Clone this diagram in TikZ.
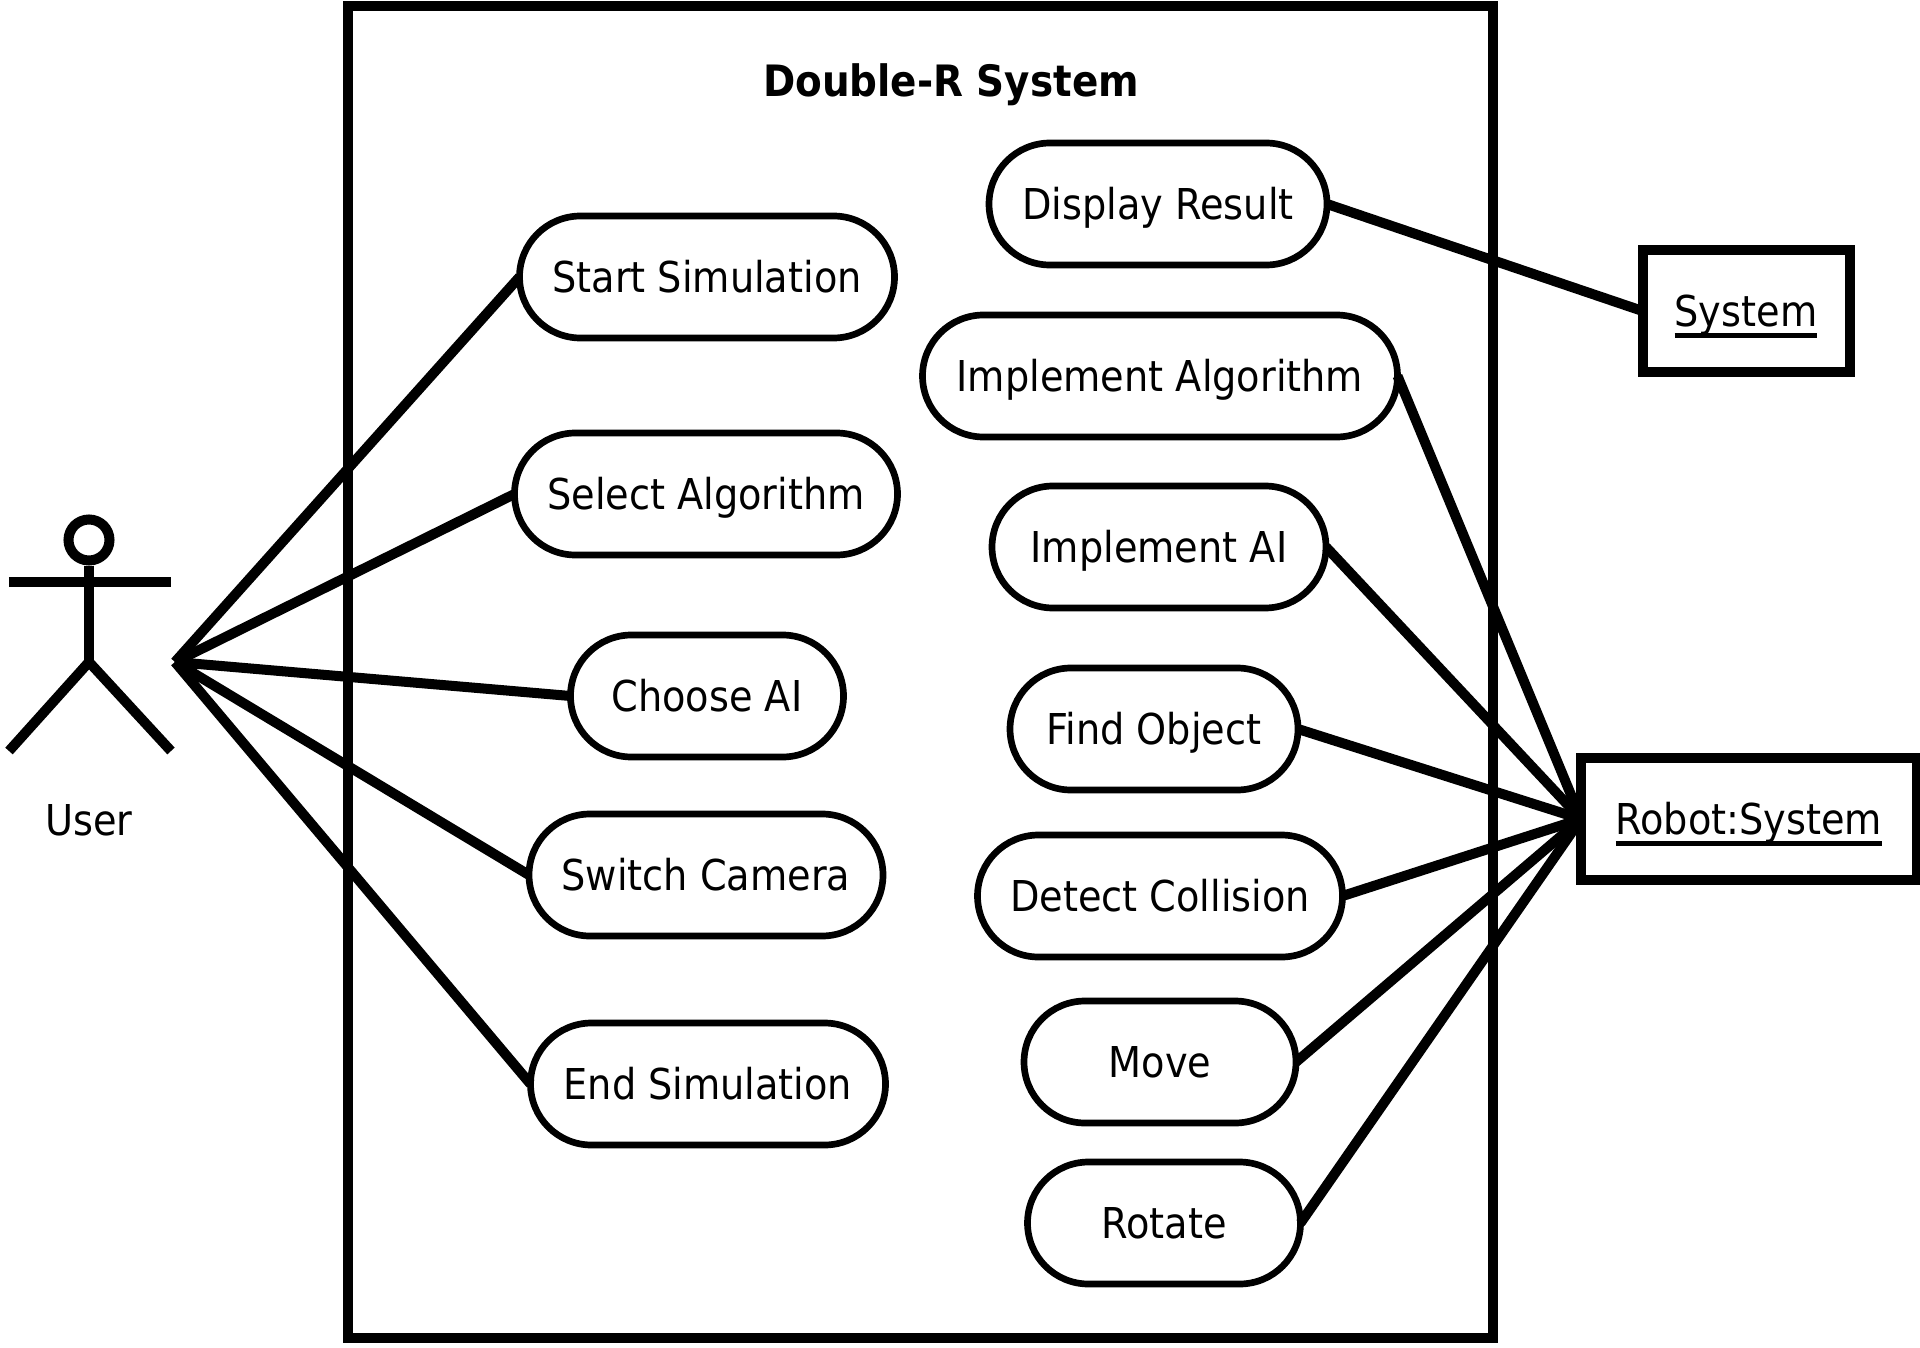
\documentclass[tikz,border=0pt]{standalone}
\usepackage{fontspec}
\setmainfont{DejaVu Sans Condensed}
\usetikzlibrary{positioning}
\newcommand{\ultext}[1]{\setbox0\hbox{#1}\leavevmode\rlap{\rule[-3.3pt]{\wd0}{1.35pt}}\box0}
\tikzset{
  usecase/.style={draw, line width=1.9pt, rounded corners=0.61cm, minimum height=1.22cm, inner sep=0pt, outer sep=0pt, text height=8.8pt, text depth=0pt, font=\fontsize{12.1}{15}\selectfont},
  actorbox/.style={draw, line width=2.85pt, minimum height=1.22cm, inner sep=0pt, outer sep=0pt, text height=8.8pt, text depth=0pt, font=\fontsize{12.1}{15}\selectfont},
  assoc/.style={line width=2.85pt}
}
\begin{document}
\begin{tikzpicture}
  \useasboundingbox (0,0) rectangle (19.2,13.47);
  % System boundary
  \draw[line width=2.85pt] (3.48,0.09) rectangle (14.93,13.41);
  \node[font=\fontsize{12.3}{16}\selectfont\bfseries, text height=8.8pt, text depth=0pt] (title) at (9.51,12.66) {Double-R System};

  % User side
  \node[usecase, minimum width=3.75cm] (start) at (7.07,10.70) {Start Simulation};
  \node[usecase, minimum width=3.83cm] (select) at (7.06,8.53) {Select Algorithm};
  \node[usecase, minimum width=2.73cm] (choose) at (7.07,6.51) {Choose AI};
  \node[usecase, minimum width=3.54cm] (switch) at (7.06,4.72) {Switch Camera};
  \node[usecase, minimum width=3.55cm] (end) at (7.08,2.63) {End Simulation};

  % Robot side
  \node[usecase, minimum width=3.38cm] (display) at (11.58,11.43) {Display Result};
  \node[usecase, minimum width=4.75cm] (implalgo) at (11.60,9.71) {Implement Algorithm};
  \node[usecase, minimum width=3.34cm] (implai) at (11.59,8.00) {Implement AI};
  \node[usecase, minimum width=2.88cm] (find) at (11.54,6.18) {Find Object};
  \node[usecase, minimum width=3.65cm] (detect) at (11.60,4.51) {Detect Collision};
  \node[usecase, minimum width=2.72cm] (move) at (11.60,2.85) {Move};
  \node[usecase, minimum width=2.73cm] (rotate) at (11.64,1.24) {Rotate};

  % External systems
  \node[actorbox, minimum width=2.07cm] (system) at (17.46,10.36) {\ultext{System}};
  \node[actorbox, minimum width=3.36cm] (robot) at (17.49,5.28) {\ultext{Robot:System}};

  % Stick figure
  \node[draw, circle, line width=2.85pt, minimum size=0.41cm, inner sep=0pt] (head) at (0.89,8.07) {};
  \coordinate (hip) at (0.89,6.85);
  \coordinate (hand) at (1.75,6.85);
  \draw[assoc] (head) -- (hip);
  \draw[assoc] (0.09,7.65) -- (1.71,7.65);
  \draw[assoc] (0.09,5.96) -- (hip) -- (1.71,5.96);
  \node[font=\fontsize{12.1}{15}\selectfont, text height=8.8pt, text depth=0pt] (user) at (0.89,5.27) {User};

  % Associations
  \foreach \uc in {start,select,choose,switch,end}
    \draw[assoc] (hand) -- (\uc.west);
  \draw[assoc] (display.east) -- (system.west);
  \foreach \uc in {implalgo,implai,find,detect,move,rotate}
    \draw[assoc] (\uc.east) -- (robot.west);
\end{tikzpicture}
\end{document}
